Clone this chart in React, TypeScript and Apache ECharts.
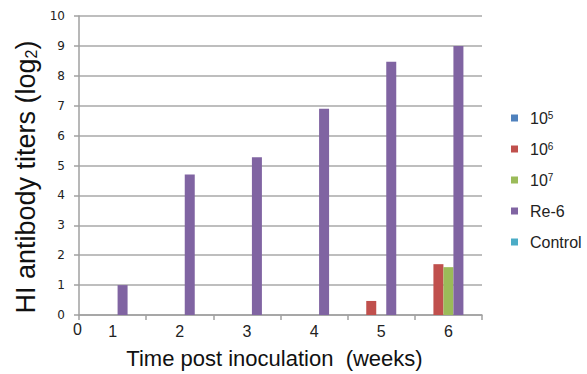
import React, { useEffect, useRef } from "react";
import * as echarts from "echarts";

const weeks = ["1", "2", "3", "4", "5", "6"];
const seriesNames = ["10^5", "10^6", "10^7", "Re-6", "Control"];
const dose5 = [0, 0, 0, 0, 0, 0];
const dose6 = [0, 0, 0, 0, 0.47, 1.7];
const dose7 = [0, 0, 0, 0, 0, 1.6];
const re6 = [1.0, 4.7, 5.28, 6.9, 8.47, 9.0];
const control = [0, 0, 0, 0, 0, 0];
const colors = ["#4F81BD", "#C0504D", "#9BBB59", "#8064A2", "#4BACC6"];
const yTitle = "HI antibody titers (log{sub|2})";
const xTitle = "Time post inoculation  (weeks)";

export default function App() {
  const ref = useRef<HTMLDivElement>(null);
  useEffect(() => {
    if (!ref.current) return;
    const chart = echarts.init(ref.current, null, { renderer: "svg" });
    const values = [dose5, dose6, dose7, re6, control];
    const font = "Liberation Sans, Arial, sans-serif";
    chart.setOption({
      animation: false,
      color: colors,
      grid: { left: 79, right: 105, top: 16, bottom: 59 },
      legend: {
        orient: "vertical",
        left: 506,
        top: 105,
        itemWidth: 7,
        itemHeight: 7,
        itemGap: 15,
        icon: "rect",
        data: seriesNames,
        formatter: (n: string) => {
          const m = n.match(/^10\^(\d)$/);
          return m ? "10{sup|" + m[1] + "}" : n;
        },
        textStyle: {
          fontFamily: font,
          fontSize: 16,
          color: "#222",
          lineHeight: 16,
          padding: [0, 0, 0, 7],
          rich: {
            sup: {
              fontFamily: font,
              fontSize: 10,
              lineHeight: 8,
              verticalAlign: "top",
              color: "#222",
            },
          },
        },
      },
      xAxis: {
        type: "category",
        data: weeks,
        name: xTitle,
        nameLocation: "middle",
        nameGap: 32,
        nameTextStyle: {
          fontFamily: font,
          fontSize: 22,
          color: "#111",
          padding: [0, 12, 0, 0],
        },
        axisLine: { lineStyle: { color: "#A0A0A0", width: 1.5 } },
        axisTick: { show: true, length: 5, lineStyle: { color: "#A0A0A0", width: 1.5 } },
        axisLabel: {
          fontFamily: font,
          fontSize: 16,
          color: "#222",
          margin: 8,
        },
      },
      yAxis: {
        type: "value",
        min: 0,
        max: 10,
        interval: 1,
        axisLine: { show: true, lineStyle: { color: "#A0A0A0", width: 1.5 } },
        axisTick: { show: true, length: 5, lineStyle: { color: "#A0A0A0", width: 1.5 } },
        splitLine: { lineStyle: { color: "#A8A8A8", width: 1.5 } },
        axisLabel: {
          fontFamily: "DejaVu Sans, Verdana, sans-serif",
          fontSize: 12,
          color: "#222",
          margin: 14,
        },
      },
      graphic: [
        {
          type: "text",
          left: 73,
          top: 321,
          style: {
            text: "0",
            fontFamily: font,
            fontSize: 16,
            fill: "#222",
          },
        },
        {
          type: "text",
          x: 26,
          y: 177,
          rotation: Math.PI / 2,
          style: {
            text: yTitle,
            fontFamily: font,
            fontSize: 27,
            fill: "#111",
            align: "center",
            verticalAlign: "middle",
            textAlign: "center",
            textVerticalAlign: "middle",
            rich: {
              sub: {
                fontFamily: font,
                fontSize: 16,
                lineHeight: 16,
                verticalAlign: "bottom",
                padding: [18, 0, 0, 0],
                fill: "#111",
              },
            },
          },
        },
      ],
      series: seriesNames.map((name, i) => ({
        name,
        type: "bar",
        data: values[i],
        barWidth: 10,
        barGap: "0%",
        itemStyle: { color: colors[i] },
      })),
    });
    return () => chart.dispose();
  }, []);
  return (
    <div
      ref={ref}
      style={{ position: "fixed", left: 0, top: 0, width: 587, height: 374, background: "#fff" }}
    />
  );
}
